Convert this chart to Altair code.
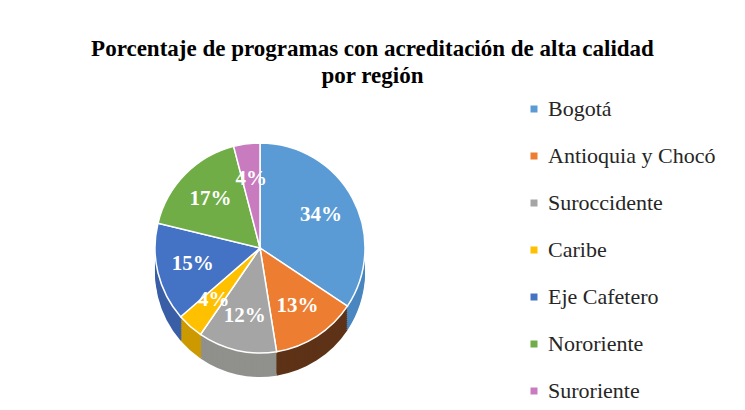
import altair as alt
import pandas as pd

regions = ["Bogotá", "Antioquia y Chocó", "Suroccidente", "Caribe",
           "Eje Cafetero", "Nororiente", "Suroriente"]
values = [34, 13, 12, 4, 15, 17, 4]
top_colors = ["#5B9BD5", "#ED7D31", "#A5A5A5", "#FFC000", "#4472C4", "#70AD47", "#C97BC0"]
side_colors = ["#4A86BF", "#5E3216", "#90908C", "#CC9A00", "#3A5FA6", "#5A9038", "#A8619F"]

df = pd.DataFrame({
    "region": regions,
    "value": values,
    "idx": list(range(len(regions))),
    "side": side_colors,
    "label": [f"{v}%" for v in values],
})

SERIF = "Liberation Serif"
W, H = 729, 296
PT = 30
CX, CY = 252, 146
R = 105
DEPTH = 24

base = alt.Chart(df)

theta = alt.Theta("value:Q", stack=True)
order = alt.Order("idx:Q")

layers = []
for d in range(DEPTH, 0, -2):
    layers.append(
        base.mark_arc(radius=R, stroke=None).encode(
            theta=theta, order=order,
            color=alt.Color("side:N", scale=None),
            x=alt.value(CX), y=alt.value(CY + d),
        )
    )

top = base.mark_arc(radius=R, stroke="white", strokeWidth=1.5).encode(
    theta=theta, order=order,
    color=alt.Color(
        "region:N",
        scale=alt.Scale(domain=regions, range=top_colors),
        sort=regions,
        legend=alt.Legend(
            title=None, orient="none", legendX=515, legendY=-4,
            symbolType="square", symbolSize=49, symbolStrokeWidth=0,
            labelFont=SERIF, labelFontSize=22, labelColor="#262626",
            rowPadding=25, labelOffset=3, padding=0, labelLimit=300,
        ),
    ),
    x=alt.value(CX), y=alt.value(CY),
)

labels = base.mark_text(
    radius=R * 0.66, font=SERIF, fontSize=21, fontWeight="bold", color="white"
).encode(
    theta=theta, order=order, text="label:N",
    x=alt.value(CX), y=alt.value(CY),
)

chart = alt.layer(*layers, top, labels).properties(
    width=W, height=H,
    autosize=alt.AutoSizeParams(type="pad"),
    padding={"left": 0, "top": PT, "right": 0, "bottom": 0},
    title=alt.TitleParams(
        text=["Porcentaje de programas con acreditación de alta calidad", "por región"],
        font=SERIF, fontSize=23, fontWeight="bold", color="#000000",
        anchor="middle", offset=10, lineHeight=27,
    ),
).configure(background="white").configure_view(stroke=None)

chart.save("out.html", embed_options={"renderer": "svg", "actions": False})
